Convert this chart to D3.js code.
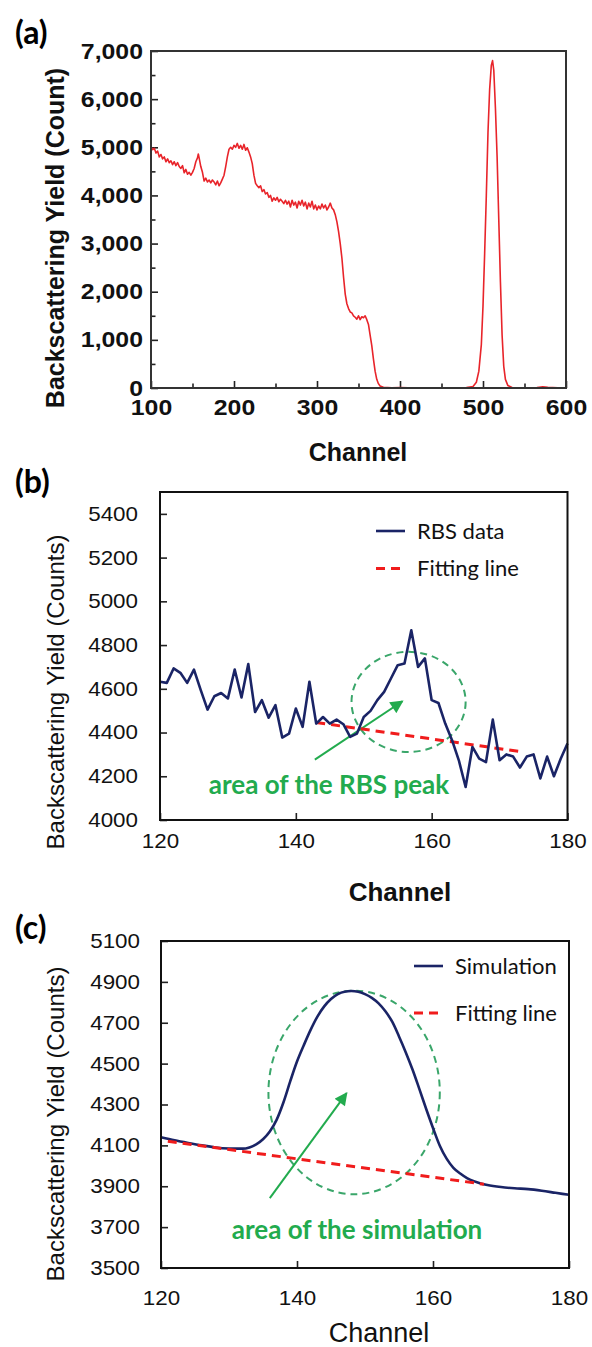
<!DOCTYPE html>
<html>
<head>
<meta charset="utf-8">
<script src="https://cdn.jsdelivr.net/npm/d3@7"></script>
<style>
  body { margin: 0; background: #fff; }
  svg { display: block; }
</style>
</head>
<body>
<div id="chart"></div>
<script>
// ---- panel (a): full RBS spectrum ----
const aChannel = [100,102,104,106,108,110,112,114,116,118,120,122,124,126,128,130,132,134,136,138,
  140,142,144,146,148,150,152,154,156,157,158,160,162,164,166,168,170,172,174,176,178,180,182,184,186,188,
  190,192,194,196,198,200,202,204,206,208,210,212,214,216,218,220,222,224,226,228,230,232,234,236,238,
  240,242,244,246,248,250,252,254,256,258,260,262,264,266,268,270,272,274,276,278,280,282,284,286,288,
  290,292,294,296,298,300,302,304,306,308,310,312,314,316,318,320,322,324,326,328,330,332,334,336,338,
  340,342,344,346,348,350,352,354,356,358,360,362,364,366,368,370,372,374,376,380,390,400,420,440,460,
  480,488,492,495,498,500,502,504,506,508,510,511.5,513,515,517,519,521,523,525,527,530,535,550,565,572,578,590,600];
const aCount = [5010,4950,4980,4880,4920,4800,4850,4760,4800,4700,4760,4680,4720,4640,4700,4620,4680,4600,4560,4620,
  4470,4540,4440,4480,4420,4480,4560,4700,4780,4860,4780,4600,4480,4300,4360,4280,4320,4260,4320,4280,4220,4300,4200,4260,4340,4420,
  4600,4800,4960,5000,4960,5040,5000,5080,4980,5040,4960,5060,4940,4990,4900,4800,4660,4420,4250,4200,4160,4200,4080,4120,4030,
  4060,3960,4000,3880,3950,3900,3960,3870,3920,3880,3830,3900,3820,3880,3760,3900,3800,3860,3740,3880,3800,3900,3780,3860,3720,
  3840,3760,3880,3720,3800,3700,3780,3720,3820,3740,3800,3700,3760,3840,3740,3700,3600,3450,3250,3000,2700,2300,1950,1750,1650,
  1580,1560,1500,1470,1430,1500,1420,1480,1460,1500,1420,1320,1100,880,600,350,180,90,40,15,5,8,0,6,2,
  10,30,120,350,900,1700,2800,4000,5300,6200,6700,6800,6600,5800,4800,3500,2200,1100,450,180,50,10,5,10,25,15,5,0];
const aXTicks = [100, 200, 300, 400, 500, 600];
const aXMinor = [150, 250, 350, 450, 550];
const aYTicks = [0, 1000, 2000, 3000, 4000, 5000, 6000, 7000];
const aYMinor = [500, 1500, 2500, 3500, 4500, 5500, 6500];

// ---- panel (b): RBS data around the peak ----
const bChannel = [120,121,122,123,124,125,126,127,128,129,130,131,132,133,134,135,136,137,138,139,140,
  141,142,143,144,145,146,147,148,149,150,151,152,153,154,155,156,157,158,159,160,
  161,162,163,164,165,166,167,168,169,170,171,172,173,174,175,176,177,178,179,180];
const bCount = [4632,4627,4693,4673,4627,4688,4594,4505,4566,4581,4556,4688,4560,4713,4494,4548,4468,4525,4377,4395,4510,
  4426,4632,4441,4471,4441,4459,4438,4380,4395,4471,4499,4548,4586,4647,4708,4716,4868,4700,4739,4548,
  4535,4441,4365,4273,4151,4334,4281,4265,4459,4273,4300,4290,4240,4290,4300,4190,4290,4200,4280,4350];
const bFitChannel = [143, 173];
const bFitCount = [4446, 4313];
const bXTicks = [120, 140, 160, 180];
const bYTicks = [4000, 4200, 4400, 4600, 4800, 5000, 5200, 5400];

// ---- panel (c): simulation ----
const cChannel = [120,122,124,126,128,130,132,133,134,135,136,137,138,139,140,141,142,143,144,145,146,147,148,149,
  150,151,152,153,154,155,156,157,158,159,160,161,162,163,164,165,166,167,168,170,172,174,176,178,180];
const cCount = [4140,4125,4112,4100,4090,4085,4084,4090,4105,4130,4168,4225,4310,4413,4510,4590,4665,4730,4780,4816,4840,4852,4855,4852,
  4840,4822,4795,4756,4705,4633,4555,4470,4375,4278,4185,4098,4035,3990,3962,3940,3925,3914,3906,3896,3890,3886,3878,3868,3858];
const cFitChannel = [121, 167.5];
const cFitCount = [4120, 3910];
const cXTicks = [120, 140, 160, 180];
const cYTicks = [3500, 3700, 3900, 4100, 4300, 4500, 4700, 4900, 5100];

const legendB = ['RBS data', 'Fitting line'];
const legendC = ['Simulation', 'Fitting line'];
const noteB = 'area of the RBS peak';
const noteC = 'area of the simulation';

const ARIAL = '"Liberation Sans", Arial, sans-serif';
const CALIBRI = 'Lato, "Open Sans", sans-serif';
const RED = '#e8242a';
const NAVY = '#1a2466';
const FIT = '#f01c1c';
const GREEN = '#22ab4e';

const svg = d3.select('#chart').append('svg')
  .attr('width', 592)
  .attr('height', 1347);

const defs = svg.append('defs');
defs.append('marker')
  .attr('id', 'head')
  .attr('viewBox', '0 0 10 10')
  .attr('refX', 9).attr('refY', 5)
  .attr('markerUnits', 'userSpaceOnUse')
  .attr('markerWidth', 14).attr('markerHeight', 13)
  .attr('orient', 'auto')
  .append('path')
  .attr('d', 'M0,0 L10,5 L0,10 z')
  .attr('fill', GREEN);

function makePanel(o) {
  const x = d3.scaleLinear().domain(o.xDomain).range([o.left, o.right]);
  const y = d3.scaleLinear().domain(o.yDomain).range([o.bottom, o.top]);
  const g = svg.append('g');
  const sx = o.stretch;

  const xAxis = d3.axisBottom(x).tickValues(o.xTicks).tickSizeInner(-o.tick).tickSizeOuter(0)
    .tickPadding(o.xPad).tickFormat(d3.format('d'));
  const gx = g.append('g').attr('transform', 'translate(0,' + o.bottom + ')').call(xAxis);

  const yAxis = d3.axisLeft(y).tickValues(o.yTicks).tickSizeInner(-o.tick).tickSizeOuter(0)
    .tickPadding(o.yPad).tickFormat(o.yFormat);
  const gy = g.append('g').attr('transform', 'translate(' + o.left + ',0)').call(yAxis);

  [gx, gy].forEach(a => {
    a.select('.domain').remove();
    a.attr('font-family', ARIAL).attr('font-size', o.tickFont).attr('font-weight', o.bold ? 'bold' : 'normal');
    a.selectAll('line').attr('stroke', '#222').attr('stroke-width', 1.6);
    a.selectAll('text').attr('fill', '#111').attr('transform', 'scale(' + sx + ',1)');
  });
  // labels are a little wider than the font, keep their right edge in place
  gy.selectAll('text').attr('x', -o.yPad / sx);

  if (o.xMinor) {
    g.append('g').attr('transform', 'translate(0,' + o.bottom + ')')
      .call(d3.axisBottom(x).tickValues(o.xMinor).tickSizeInner(-o.minor).tickSizeOuter(0).tickFormat(''))
      .call(a => a.select('.domain').remove())
      .selectAll('line').attr('stroke', '#222').attr('stroke-width', 1.6);
    g.append('g').attr('transform', 'translate(' + o.left + ',0)')
      .call(d3.axisLeft(y).tickValues(o.yMinor).tickSizeInner(-o.minor).tickSizeOuter(0).tickFormat(''))
      .call(a => a.select('.domain').remove())
      .selectAll('line').attr('stroke', '#222').attr('stroke-width', 1.6);
  }

  return { x, y, g };
}

function addFrame(p, o) {
  p.g.append('rect')
    .attr('x', o.left).attr('y', o.top)
    .attr('width', o.right - o.left).attr('height', o.bottom - o.top)
    .attr('fill', 'none').attr('stroke', o.frameColor || '#111').attr('stroke-width', 2);
}

function addTitles(o) {
  svg.append('text')
    .attr('x', 15).attr('y', o.tagY)
    .attr('dy', '0.35em')
    .attr('font-family', CALIBRI).attr('font-weight', 'bold').attr('font-size', 32)
    .text(o.tag);
  svg.append('text')
    .attr('transform', 'translate(' + o.yTitleX + ',' + o.yTitleY + ') rotate(-90)')
    .attr('text-anchor', 'middle').attr('dy', '0.36em')
    .attr('font-family', ARIAL).attr('font-weight', o.yTitleBold ? 'bold' : 'normal')
    .attr('font-size', o.yTitleFont).attr('fill', '#111')
    .text(o.yTitle);
  svg.append('text')
    .attr('x', o.xTitleX).attr('y', o.xTitleY)
    .attr('text-anchor', 'middle').attr('dy', '0.36em')
    .attr('font-family', ARIAL).attr('font-weight', o.xTitleBold ? 'bold' : 'normal')
    .attr('font-size', o.xTitleFont).attr('fill', '#111')
    .text('Channel');
}

const line = (p, xs, ys, curve) => d3.line()
  .curve(curve || d3.curveLinear)
  .x(i => p.x(xs[i])).y(i => p.y(ys[i]))(d3.range(xs.length));

function addLegend(items, lx, ly, gap) {
  const g = svg.append('g');
  g.append('line').attr('x1', lx).attr('x2', lx + 29).attr('y1', ly).attr('y2', ly)
    .attr('stroke', NAVY).attr('stroke-width', 2.6);
  g.append('line').attr('x1', lx).attr('x2', lx + 27).attr('y1', ly + gap).attr('y2', ly + gap)
    .attr('stroke', FIT).attr('stroke-width', 3).attr('stroke-dasharray', '9,6');
  g.selectAll('text').data(items).join('text')
    .attr('x', lx + 41).attr('y', (d, i) => ly + i * gap)
    .attr('dy', '0.35em')
    .attr('font-family', CALIBRI).attr('font-size', 22).attr('fill', '#111')
    .text(d => d);
}

function addNote(p, note, circle, arrow, tx, ty) {
  p.g.append('ellipse')
    .attr('cx', p.x(circle[0])).attr('cy', p.y(circle[1]))
    .attr('rx', p.x(circle[0] + circle[2]) - p.x(circle[0]))
    .attr('ry', p.y(circle[1] - circle[3]) - p.y(circle[1]))
    .attr('fill', 'none').attr('stroke', '#3aa66a').attr('stroke-width', 2).attr('stroke-dasharray', '7,5');
  p.g.append('line')
    .attr('x1', p.x(arrow[0])).attr('y1', p.y(arrow[1]))
    .attr('x2', p.x(arrow[2])).attr('y2', p.y(arrow[3]))
    .attr('stroke', GREEN).attr('stroke-width', 2).attr('marker-end', 'url(#head)');
  p.g.append('text')
    .attr('x', tx).attr('y', ty).attr('dy', '0.35em')
    .attr('text-anchor', 'middle')
    .attr('font-family', CALIBRI).attr('font-weight', 'bold').attr('font-size', 26)
    .attr('fill', GREEN)
    .text(note);
}

// panel (a)
const oa = { left: 151, right: 566, top: 51, bottom: 388, xDomain: [100, 600], yDomain: [0, 7000],
  xTicks: aXTicks, yTicks: aYTicks, xMinor: aXMinor, yMinor: aYMinor, tick: 7, minor: 4.5,
  xPad: 11, yPad: 8, yFormat: d3.format(','), tickFont: 22, stretch: 1.13, bold: true, frameColor: '#333' };
const pa = makePanel(oa);
pa.g.append('path')
  .attr('d', line(pa, aChannel, aCount))
  .attr('fill', 'none').attr('stroke', RED).attr('stroke-width', 1.6).attr('stroke-linejoin', 'round');
addFrame(pa, oa);
addTitles({ tag: '(a)', tagY: 33, yTitle: 'Backscattering Yield (Count)', yTitleX: 55, yTitleY: 238,
  yTitleBold: true, yTitleFont: 25, xTitleX: 358, xTitleY: 452, xTitleBold: true, xTitleFont: 25 });

// panel (b)
const ob = { left: 160, right: 567.5, top: 492, bottom: 820, xDomain: [120, 180], yDomain: [4000, 5500],
  xTicks: bXTicks, yTicks: bYTicks, tick: 7, xPad: 13.5, yPad: 22, yFormat: d3.format('d'),
  tickFont: 20, stretch: 1.12 };
const pb = makePanel(ob);
addNote(pb, noteB, [156.6, 4540, 8.4, 229], [142.8, 4276, 155.7, 4543], 329, 785);
pb.g.append('path')
  .attr('d', line(pb, bFitChannel, bFitCount))
  .attr('fill', 'none').attr('stroke', FIT).attr('stroke-width', 3).attr('stroke-dasharray', '9,6');
pb.g.append('path')
  .attr('d', line(pb, bChannel, bCount))
  .attr('fill', 'none').attr('stroke', NAVY).attr('stroke-width', 2.6).attr('stroke-linejoin', 'round');
addFrame(pb, ob);
addLegend(legendB, 376, 531, 37.5);
addTitles({ tag: '(b)', tagY: 482, yTitle: 'Backscattering Yield (Counts)', yTitleX: 55, yTitleY: 692,
  yTitleFont: 24, xTitleX: 400, xTitleY: 892, xTitleBold: true, xTitleFont: 26 });

// panel (c)
const oc = { left: 161, right: 569, top: 941, bottom: 1268, xDomain: [120, 180], yDomain: [3500, 5100],
  xTicks: cXTicks, yTicks: cYTicks, tick: 7, xPad: 23, yPad: 21, yFormat: d3.format('d'),
  tickFont: 20, stretch: 1.12 };
const pc = makePanel(oc);
addNote(pc, noteC, [148.4, 4359, 12.6, 498], [136, 3842, 147.3, 4356], 357, 1230);
pc.g.append('path')
  .attr('d', line(pc, cChannel, cCount, d3.curveMonotoneX))
  .attr('fill', 'none').attr('stroke', NAVY).attr('stroke-width', 2.6)
  .attr('stroke-linejoin', 'round');
pc.g.append('path')
  .attr('d', line(pc, cFitChannel, cFitCount))
  .attr('fill', 'none').attr('stroke', FIT).attr('stroke-width', 3).attr('stroke-dasharray', '9,6');
addFrame(pc, oc);
addLegend(legendC, 414, 966, 47);
addTitles({ tag: '(c)', tagY: 928, yTitle: 'Backscattering Yield (Counts)', yTitleX: 55, yTitleY: 1124,
  yTitleFont: 24, xTitleX: 379, xTitleY: 1332, xTitleFont: 27 });
</script>
</body>
</html>
